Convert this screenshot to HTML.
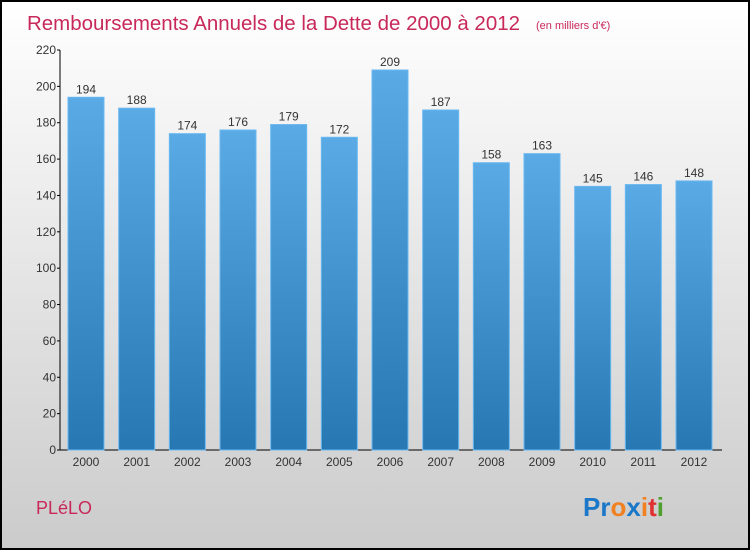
<!DOCTYPE html>
<html><head><meta charset="utf-8"><style>
body{margin:0;width:750px;height:550px;overflow:hidden;font-family:"Liberation Sans",sans-serif}
</style></head><body>
<svg id="c" width="750" height="550" xmlns="http://www.w3.org/2000/svg">
<defs>
<linearGradient id="bg" x1="0" y1="0" x2="0" y2="1"><stop offset="0" stop-color="#ffffff"/><stop offset="1" stop-color="#cbcbcb"/></linearGradient>
<linearGradient id="bar" x1="0" y1="0" x2="0" y2="1"><stop offset="0" stop-color="#5aaae6"/><stop offset="1" stop-color="#2777b3"/></linearGradient>
</defs>
<rect x="1" y="1" width="748" height="548" fill="url(#bg)" stroke="#000" stroke-width="2"/>
<text x="27" y="30" font-size="20" fill="#c8285a" textLength="493" lengthAdjust="spacingAndGlyphs">Remboursements Annuels de la Dette de 2000 à 2012</text>
<text x="536" y="29" font-size="11" fill="#c8285a">(en milliers d'€)</text>
<g id="plot"></g>
<text x="36" y="514" font-size="18" fill="#c8285a">PLéLO</text>
<text x="583" y="516" font-size="26" font-weight="bold"><tspan fill="#1b78c8">Pr</tspan><tspan fill="#f08020">o</tspan><tspan fill="#1b78c8">x</tspan><tspan fill="#f08020">i</tspan><tspan fill="#e03030">t</tspan><tspan fill="#50a030">i</tspan></text>
</svg>
<script>
const years=["2000","2001","2002","2003","2004","2005","2006","2007","2008","2009","2010","2011","2012"];
const values=[194,188,174,176,179,172,209,187,158,163,145,146,148];
const yTicks=[0,20,40,60,80,100,120,140,160,180,200,220];
const NS="http://www.w3.org/2000/svg";
const g=document.getElementById('plot');
const y0=450,yTop=50,yMax=220,x0=60,x1=722;
const ys=v=>y0-(v/yMax)*(y0-yTop);
const firstC=86,lastC=694;
const step=(lastC-firstC)/(years.length-1);
const xc=i=>firstC+step*i;
function mk(t,a){const e=document.createElementNS(NS,t);for(const k in a)e.setAttribute(k,a[k]);g.appendChild(e);return e;}
let e=mk('line',{x1:x0,y1:yTop,x2:x0,y2:y0,stroke:'#000'});


e=mk('line',{x1:x0,y1:y0,x2:x1,y2:y0,stroke:'#000'});


yTicks.forEach(v=>{
 const y=ys(v);
 const t=mk('line',{x1:x0-3,y1:y,x2:x0,y2:y,stroke:'#000'});
 
 
 const l=mk('text',{x:x0-4,y:y+4,'font-size':12,'text-anchor':'end',fill:'#333'});
 l.textContent=v;
 
 
});
years.forEach((yr,i)=>{
 const v=values[i],bw=36,x=xc(i)-bw/2,y=ys(v);
 const r=mk('rect',{x:x,y:y,width:bw,height:y0-y,fill:'url(#bar)',stroke:'#6ab8f0','stroke-width':1});
 
 
 const vl=mk('text',{x:xc(i),y:y-4,'font-size':12,'text-anchor':'middle',fill:'#333'});
 vl.textContent=v;
 
 
 const xl=mk('text',{x:xc(i),y:y0+16,'font-size':12,'text-anchor':'middle',fill:'#333'});
 xl.textContent=yr;
 
 
});
</script>
</body></html>
